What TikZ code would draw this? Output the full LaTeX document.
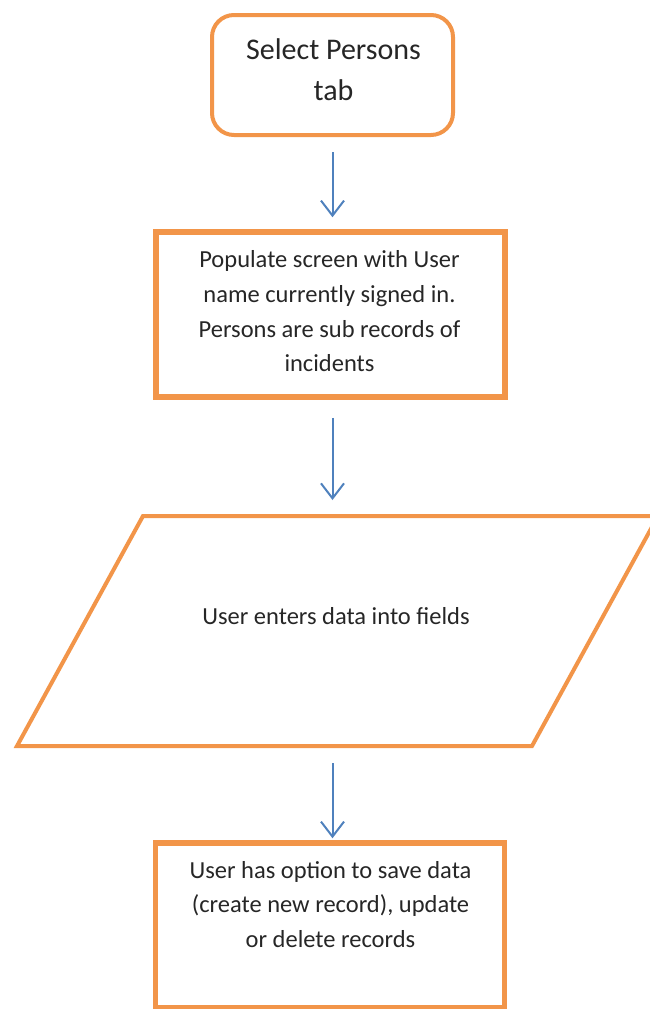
\documentclass[tikz,border=0pt]{standalone}
\usepackage{fontspec}
\setmainfont{Carlito}
\usetikzlibrary{arrows.meta}
\definecolor{flowOrange}{HTML}{F29549}
\definecolor{flowBlue}{HTML}{4F81BD}
\definecolor{flowText}{HTML}{262626}
\tikzset{
  startbox/.style={draw=flowOrange, line width=4pt, rounded corners=22pt,
    minimum width=241pt, minimum height=120pt, inner sep=0pt},
  procbox/.style={draw=flowOrange, line width=5.5pt,
    minimum width=349pt, minimum height=165pt, inner sep=0pt},
  iobox/.style={draw=none, minimum width=641pt, minimum height=230pt,
    inner sep=0pt, outer sep=0pt},
  ioline/.style={draw=flowOrange, line width=4pt, line join=miter},
  bigtext/.style={font=\fontsize{30}{41}\selectfont, text=flowText,
    align=center, inner sep=0pt},
  smalltext/.style={font=\fontsize{24.5}{34.7}\selectfont, text=flowText,
    align=center, inner sep=0pt},
  flow/.style={draw=flowBlue, line width=2pt,
    -{Straight Barb[length=15pt,width=23pt,line width=2pt]}}
}
\begin{document}
\begin{tikzpicture}[x=1pt,y=-1pt]
  \useasboundingbox (0,0) rectangle (649,1009);

  % shapes
  \node[startbox] (b1) at (332.5,75) {};
  \node[procbox]  (b2) at (330.5,314.5) {};
  \node[iobox]    (p)  at (337.5,631) {};
  \draw[ioline] ([xshift=126pt]p.north west) -- (p.north east)
    -- ([xshift=-126pt]p.south east) -- (p.south west) -- cycle;
  \node[procbox]  (b4) at (330,925.5) {};

  % labels
  \node[bigtext]   (t1) at (333.5,69.5) {Select Persons\\tab};
  \node[smalltext] (t2) at (329.5,311.5)
    {Populate screen with User\\name currently signed in.\\Persons are sub records of\\incidents};
  \node[smalltext] (t3) at (336,616.5) {User enters data into fields};
  \node[smalltext] (t4) at (330.5,904.5)
    {User has option to save data\\(create new record), update\\or delete records};

  % connectors
  \draw[flow, shorten <=15pt, shorten >=12pt] (b1.south) -- (b1.south |- b2.north);
  \draw[flow, shorten <=18pt, shorten >=16pt] (b1.south |- b2.south) -- (b1.south |- p.north);
  \draw[flow, shorten <=17pt, shorten >=2pt] (b1.south |- p.south) -- (b1.south |- b4.north);
\end{tikzpicture}
\end{document}
